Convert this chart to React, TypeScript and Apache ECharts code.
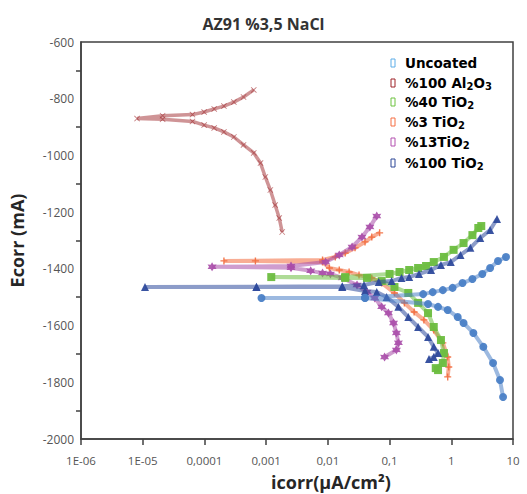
import React, { useEffect, useRef } from 'react';
import * as echarts from 'echarts';

// ---- data (icorr µA/cm², Ecorr mV), in scan order ----
const xTickExps = [-6, -5, -4, -3, -2, -1, 0, 1];
const xTickLabels = ['1E-06', '1E-05', '0,0001', '0,001', '0,01', '0,1', '1', '10'];

const uncoated: number[][] = [
  [6.9, -1852], [6.15, -1792], [4.75, -1732], [3.3, -1675], [2.28, -1626], [1.58, -1591],
  [1.27, -1570], [0.875, -1545], [0.61, -1534], [0.42, -1524], [0.04, -1503], [0.00084, -1503],
  [0.04, -1502], [0.35, -1489], [0.5, -1482], [0.73, -1475], [1.05, -1467], [1.52, -1450],
  [2.2, -1436], [3.18, -1418], [4.26, -1397], [5.72, -1372], [7.7, -1358],
];

const al2o3: number[][] = [
  [0.00182, -1270], [0.00163, -1221], [0.0014, -1175], [0.00117, -1122], [0.00097, -1076],
  [0.00081, -1027], [0.00063, -991], [0.00043, -963], [0.0003, -935], [0.000207, -917],
  [0.000144, -903], [0.000099, -893], [0.000064, -880], [0.000021, -872], [0.0000081, -870],
  [0.000021, -860], [0.000064, -856], [0.000099, -847], [0.000144, -836], [0.000207, -826],
  [0.0003, -812], [0.00043, -794], [0.00063, -769],
];

const tio2_40: number[][] = [
  [0.61, -1757], [0.56, -1750], [0.73, -1732], [0.76, -1697], [0.68, -1651], [0.52, -1605],
  [0.42, -1556], [0.29, -1520], [0.201, -1485], [0.12, -1464], [0.0745, -1443], [0.043, -1432],
  [0.0191, -1432], [0.00121, -1429], [0.0191, -1429], [0.1, -1418], [0.145, -1411], [0.208, -1404],
  [0.29, -1397], [0.39, -1390], [0.52, -1376], [0.76, -1358], [1.09, -1333], [1.58, -1309],
  [2.2, -1281], [2.74, -1256], [3.06, -1249],
];

const tio2_3: number[][] = [
  [0.875, -1781], [0.91, -1746], [0.875, -1711], [0.73, -1661], [0.52, -1616], [0.36, -1580],
  [0.25, -1552], [0.174, -1520], [0.12, -1485], [0.0745, -1450], [0.0515, -1432], [0.032, -1422],
  [0.0221, -1411], [0.0153, -1404], [0.0106, -1397], [0.0082, -1376], [0.00067, -1372],
  [0.000207, -1372], [0.0082, -1369], [0.0132, -1358], [0.0191, -1344], [0.0276, -1326],
  [0.04, -1305], [0.0515, -1288], [0.069, -1273],
];

const tio2_13: number[][] = [
  [0.083, -1711], [0.129, -1686], [0.139, -1661], [0.129, -1626], [0.116, -1591], [0.096, -1556],
  [0.0745, -1534], [0.0575, -1503], [0.043, -1482], [0.0297, -1457], [0.0171, -1432], [0.011, -1418],
  [0.0082, -1415], [0.00527, -1407], [0.00253, -1396], [0.000133, -1393], [0.00253, -1390],
  [0.0092, -1376], [0.0153, -1351], [0.0247, -1323], [0.0357, -1288], [0.048, -1252], [0.062, -1214],
];

const tio2_100: number[][] = [
  [0.435, -1718], [0.52, -1711], [0.61, -1697], [0.52, -1675], [0.42, -1640], [0.29, -1605],
  [0.201, -1570], [0.139, -1534], [0.0895, -1499], [0.062, -1482], [0.04, -1478], [0.0171, -1464],
  [0.000697, -1464], [0.0000109, -1464], [0.000697, -1463], [0.0171, -1461], [0.0385, -1457],
  [0.0667, -1446], [0.108, -1443], [0.156, -1432], [0.208, -1429], [0.3, -1418], [0.47, -1404],
  [0.68, -1386], [0.98, -1376], [1.41, -1351], [2.04, -1326], [2.95, -1291], [4.26, -1263],
  [5.5, -1224],
];

const SYM_PLUS = 'path://M4,0H6V4H10V6H6V10H4V6H0V4H4Z';
const SYM_X = 'path://M1,0L5,4L9,0L10,1L6,5L10,9L9,10L5,6L1,10L0,9L4,5L0,1Z';
const SYM_STAR = 'path://M5,0L6.4,2.6L9.3,2.5L7.9,5L9.3,7.5L6.4,7.4L5,10L3.6,7.4L0.7,7.5L2.1,5L0.7,2.5L3.6,2.6Z';

export default function App() {
  const ref = useRef<HTMLDivElement>(null);
  useEffect(() => {
    document.body.style.margin = '0';
    if (!ref.current) return;
    const chart = echarts.init(ref.current, undefined, { renderer: 'svg' });

    const mk = (name: string, data: number[][], color: string, symbol: string, size: number,
      lw: number, lineOp: number, symOp: number, z: number) => ({
      name,
      type: 'line',
      data,
      symbol,
      symbolSize: size,
      showSymbol: true,
      showAllSymbol: true,
      z,
      itemStyle: { color, opacity: symOp },
      lineStyle: { color, width: lw, opacity: lineOp },
      emphasis: { disabled: true },
    });

    const legendItems = [
      { y: 63, color: '#5dade8', text: '{b|Uncoated}' },
      { y: 83, color: '#9e2228', text: '{b|%100 Al}{s|2}{b|O}{s|3}' },
      { y: 102, color: '#6cc23e', text: '{b|%40 TiO}{s|2}' },
      { y: 122, color: '#f66f43', text: '{b|%3 TiO}{s|2}' },
      { y: 142, color: '#b350b0', text: '{b|%13TiO}{s|2}' },
      { y: 163, color: '#2c4797', text: '{b|%100 TiO}{s|2}' },
    ];
    const graphics: any[] = [];
    legendItems.forEach((it) => {
      graphics.push({
        type: 'rect',
        shape: { x: 391, y: it.y - 4, width: 4, height: 8 },
        style: { fill: 'none', stroke: it.color, lineWidth: 1 },
      });
      graphics.push({
        type: 'text',
        x: 405,
        y: it.y,
        style: {
          text: it.text,
          verticalAlign: 'middle',
          rich: {
            b: { fontFamily: 'DejaVu Sans', fontWeight: 'bold', fontSize: 13.5, color: it.color, lineHeight: 16 },
            s: { fontFamily: 'DejaVu Sans', fontWeight: 'bold', fontSize: 10, color: it.color, lineHeight: 16, verticalAlign: 'bottom' },
          },
        },
      });
    });
    graphics.push({
      type: 'text',
      x: 331,
      y: 482,
      style: {
        text: 'icorr(µA/cm²)',
        fontFamily: 'Open Sans',
        fontWeight: 'bold',
        fontSize: 18,
        fill: '#262626',
        align: 'center',
        verticalAlign: 'middle',
      },
    });

    chart.setOption({
      animation: false,
      title: {
        text: 'AZ91 %3,5 NaCl',
        left: 'center',
        top: 11,
        textStyle: { fontFamily: 'Open Sans', fontWeight: 'bold', fontSize: 16, color: '#333' },
      },
      grid: { left: 75, right: 14, top: 42, bottom: 55, show: true, borderColor: '#404040', borderWidth: 1.5, backgroundColor: 'transparent' },
      xAxis: {
        type: 'log',
        logBase: 10,
        min: 1e-6,
        max: 10,
        axisLine: { show: true, lineStyle: { color: '#404040', width: 1.5 } },
        axisTick: { show: true, length: 6, lineStyle: { color: '#404040', width: 1.5 } },
        splitLine: { show: false },
        axisLabel: {
          margin: 15,
          fontFamily: 'Open Sans',
          fontSize: 11.5,
          color: '#555',
          formatter: (v: number) => {
            const e = Math.round(Math.log10(v));
            const i = xTickExps.indexOf(e);
            return i >= 0 ? xTickLabels[i] : '';
          },
        },
      },
      yAxis: {
        type: 'value',
        min: -2000,
        max: -600,
        interval: 200,
        name: 'Ecorr (mA)',
        nameLocation: 'middle',
        nameGap: 55,
        nameRotate: 90,
        nameTextStyle: { fontFamily: 'Open Sans', fontWeight: 'bold', fontSize: 18, color: '#262626' },
        axisLine: { show: true, lineStyle: { color: '#404040', width: 1.5 } },
        axisTick: { show: false },
        minorTick: { show: true, splitNumber: 2, length: 5, lineStyle: { color: '#404040', width: 1.5 } },
        splitLine: { show: false },
        minorSplitLine: { show: false },
        axisLabel: {
          margin: 7, fontFamily: 'Open Sans', fontSize: 12, color: '#555',
          formatter: (v: number) => String(v),
        },
      },
      series: [
        mk('%100 Al2O3', al2o3, '#a02a2d', SYM_X, 6, 3.5, 0.5, 0.6, 2),
        mk('%3 TiO2', tio2_3, '#f26a3c', SYM_PLUS, 7, 4, 0.55, 0.9, 3),
        mk('%13TiO2', tio2_13, '#a84ca8', SYM_STAR, 9, 4, 0.55, 0.9, 4),
        mk('%40 TiO2', tio2_40, '#6bbd3f', 'rect', 8, 4, 0.55, 0.95, 5),
        mk('%100 TiO2', tio2_100, '#2e4a9c', 'triangle', 8, 4, 0.55, 0.95, 6),
        mk('Uncoated', uncoated, '#4a7fc6', 'circle', 8, 4, 0.55, 0.95, 7),
      ],
      graphic: graphics,
    });
    return () => chart.dispose();
  }, []);
  return <div ref={ref} style={{ width: 527, height: 494 }} />;
}
